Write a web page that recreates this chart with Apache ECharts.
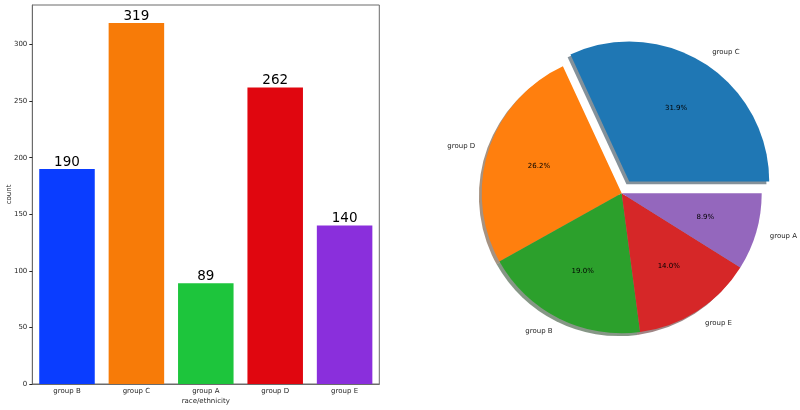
<!DOCTYPE html>
<html>
<head>
<meta charset="utf-8">
<script src="https://cdn.jsdelivr.net/npm/echarts@6/dist/echarts.min.js"></script>
<style>
  html, body { margin: 0; padding: 0; background: #fff; }
  #chart { width: 800px; height: 410px; }
</style>
</head>
<body>
<div id="chart"></div>
<script>
// count plot
const barCategories = ['group B', 'group C', 'group A', 'group D', 'group E'];
const barCounts = [190, 319, 89, 262, 140];
const barColors = ['#0a3dff', '#f77b08', '#1dc53c', '#e0060f', '#8a2fdc'];
const yTicks = [0, 50, 100, 150, 200, 250, 300];

// pie
const pieLabels = ['group C', 'group D', 'group B', 'group E', 'group A'];
const pieCounts = [319, 262, 190, 140, 89];
const pieColors = ['#1f77b4', '#ff7f0e', '#2ca02c', '#d62728', '#9467bd'];
const explodeIndex = 0;

const font = 'DejaVu Sans';
const textColor = '#262626';
const spine = '#6b6b6b';

const pieCx = 621.7, pieCy = 193.3, pieR = 140;

function shadowOf(hex) {
    const n = parseInt(hex.slice(1), 16);
    const r = Math.round(((n >> 16) & 255) * 0.3);
    const g = Math.round(((n >> 8) & 255) * 0.3);
    const b = Math.round((n & 255) * 0.3);
    return 'rgba(' + r + ',' + g + ',' + b + ',0.5)';
}

function pieData(colorFn) {
    return pieLabels.map((name, i) => ({
        name: name,
        value: pieCounts[i],
        selected: i === explodeIndex,
        itemStyle: { color: colorFn(i) }
    }));
}

const pieCommon = {
    type: 'pie',
    startAngle: 0,
    clockwise: false,
    selectedMode: 'single',
    selectedOffset: 14,
    avoidLabelOverlap: false,
    animation: false,
    emphasis: { disabled: true }
};

const option = {
    animation: false,
    textStyle: { fontFamily: font },
    grid: {
        left: 32.3, right: 420.7, top: 5, bottom: 26,
        outerBoundsMode: 'none',
        show: true, borderColor: spine, borderWidth: 1
    },
    xAxis: {
        type: 'category',
        data: barCategories,
        name: 'race/ethnicity',
        nameLocation: 'middle',
        nameMoveOverlap: false,
        nameGap: 14,
        nameTextStyle: { fontSize: 7, color: textColor, fontFamily: font },
        axisLine: { lineStyle: { color: spine } },
        axisTick: { alignWithLabel: true, length: 3, lineStyle: { color: textColor } },
        axisLabel: { fontSize: 7, color: textColor, margin: 4, fontFamily: font }
    },
    yAxis: {
        type: 'value',
        min: 0,
        max: Math.max(...barCounts) * 1.05,
        name: 'count',
        nameLocation: 'middle',
        nameMoveOverlap: false,
        nameGap: 20,
        nameRotate: 90,
        nameTextStyle: { fontSize: 7, color: textColor, fontFamily: font },
        splitLine: { show: false },
        axisLine: { show: true, lineStyle: { color: spine } },
        axisTick: { show: true, length: 3, customValues: yTicks, lineStyle: { color: textColor } },
        axisLabel: { fontSize: 7, color: textColor, margin: 5, customValues: yTicks, fontFamily: font }
    },
    series: [
        {
            type: 'bar',
            barCategoryGap: '20%',
            data: barCounts.map((v, i) => ({ value: v, itemStyle: { color: barColors[i] } })),
            label: {
                show: true, position: 'top', distance: 0,
                fontSize: 13.5, color: '#000', fontFamily: font
            },
            emphasis: { disabled: true }
        },
        Object.assign({}, pieCommon, {
            // shadow
            center: [pieCx - 2.8, pieCy + 2.8],
            radius: pieR,
            silent: true,
            z: 1,
            label: { show: false },
            labelLine: { show: false },
            data: pieData(i => shadowOf(pieColors[i]))
        }),
        Object.assign({}, pieCommon, {
            center: [pieCx, pieCy],
            radius: pieR,
            z: 2,
            label: {
                show: true, position: 'outside', formatter: '{b}',
                fontSize: 7, color: textColor, fontFamily: font,
                distanceToLabelLine: 0
            },
            labelLine: { show: false, length: 14, length2: 0 },
            data: pieData(i => pieColors[i])
        }),
        Object.assign({}, pieCommon, {
            // percent labels at 0.6 r
            center: [pieCx, pieCy],
            radius: [28, pieR],
            silent: true,
            z: 3,
            label: {
                show: true, position: 'inside',
                formatter: p => p.percent.toFixed(1) + '%',
                fontSize: 7, color: '#000', fontFamily: font
            },
            labelLine: { show: false },
            data: pieData(() => 'rgba(0,0,0,0)')
        })
    ]
};

const chart = echarts.init(document.getElementById('chart'));
chart.setOption(option);
</script>
</body>
</html>
